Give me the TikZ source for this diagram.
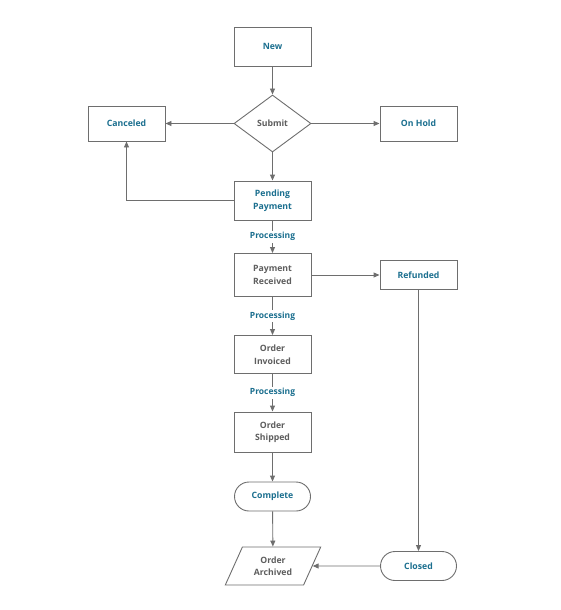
\documentclass[tikz,border=0pt]{standalone}
\usepackage{fontspec}
\setmainfont{Open Sans}
\usetikzlibrary{arrows.meta, positioning, shapes.geometric, shapes.misc}

\definecolor{stateblue}{HTML}{1B6F8F}
\definecolor{linegray}{HTML}{6E6E6E}
\definecolor{textgray}{HTML}{5E5E5E}

\tikzset{
  box/.style={draw=linegray, line width=0.9pt, fill=white, align=center,
    minimum width=77pt, inner sep=2pt, font=\bfseries\fontsize{8.7}{12.5}\selectfont},
  flow/.style={draw=linegray, line width=0.9pt, -{Triangle[length=6pt, width=5pt]}},
  proc/.style={fill=white, text=stateblue, inner sep=1.5pt, font=\bfseries\fontsize{8.5}{10}\selectfont}
}

\begin{document}
\begin{tikzpicture}[x=1pt, y=-1pt]
  \useasboundingbox (0,0) rectangle (560,610);

  % Top: new order and decision
  \node[box, text=stateblue, minimum height=39pt] (new) at (272.5, 46.5) {New};
  \node[box, diamond, text=textgray, minimum width=77pt, minimum height=57pt, inner sep=0pt] (sub) at (272.5, 123.5) {Submit};
  \node[box, text=stateblue, minimum height=35pt] (can) at (126.5, 123.5) {Canceled};
  \node[box, text=stateblue, minimum height=35pt] (hold) at (418.5, 123.5) {On Hold};

  % Main column
  \node[box, text=stateblue, minimum height=39pt] (pend) at (272.5, 200.5) {Pending\\Payment};
  \node[box, text=textgray, minimum height=43pt] (recv) at (272.5, 275) {Payment\\Received};
  \node[box, text=textgray, minimum height=38pt] (inv) at (272.5, 354.5) {Order\\Invoiced};
  \node[box, text=textgray, minimum height=40pt] (ship) at (272.5, 432) {Order\\Shipped};
  \node[box, rounded rectangle, text=stateblue, minimum width=80pt, minimum height=29pt] (comp) at (272.5, 496.5) {Complete};
  \node[box, trapezium, trapezium left angle=63, trapezium right angle=117, trapezium stretches=true,
    text=textgray, minimum width=96pt, minimum height=38pt] (arch) at (273, 566) {Order\\Archived};

  % Right column
  \node[box, text=stateblue, minimum height=29pt] (ref) at (418.5, 275) {Refunded};
  \node[box, rounded rectangle, text=stateblue, minimum width=80pt, minimum height=29pt] (closed) at (418.5, 566) {Closed};

  % Connectors
  \draw[flow] (new) -- (sub);
  \draw[flow] (sub) -- (can);
  \draw[flow] (sub) -- (hold);
  \draw[flow] (sub) -- (pend);
  \draw[flow] (pend.west) -| (can.south);
  \draw[flow] (pend) -- node[proc] (p1) {Processing} (recv);
  \draw[flow] (recv) -- node[proc] (p2) {Processing} (inv);
  \draw[flow] (inv) -- node[proc] (p3) {Processing} (ship);
  \draw[flow] (recv) -- (ref);
  \draw[flow] (ship) -- (comp);
  \draw[flow] (comp) -- (arch);
  \draw[flow] (ref) -- (closed);
  \draw[flow] (closed) -- (arch.east);
\end{tikzpicture}
\end{document}
